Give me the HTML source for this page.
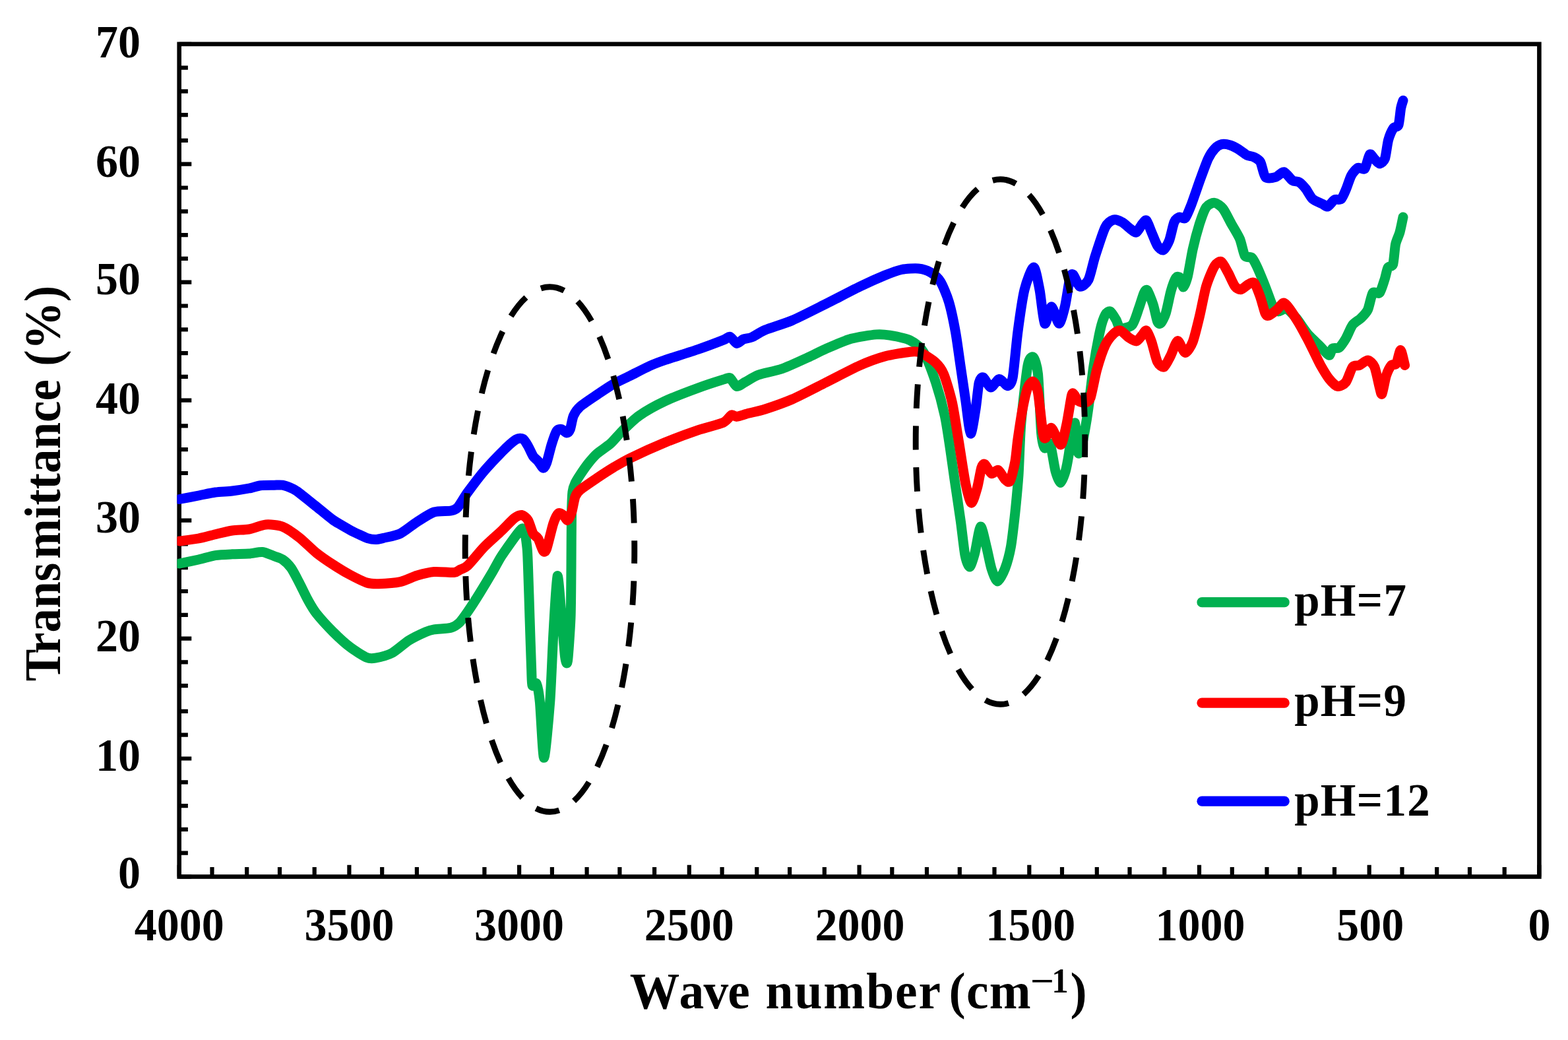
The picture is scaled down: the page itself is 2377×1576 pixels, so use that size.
<!DOCTYPE html>
<html lang="en">
<head>
<meta charset="utf-8">
<title>FTIR transmittance spectra</title>
<style>
html,body{margin:0;padding:0;background:#fff;}
body{width:2377px;height:1576px;overflow:hidden;}
svg{display:block;}
text{font-family:"Liberation Serif","DejaVu Serif",serif;font-weight:bold;fill:#000;font-kerning:none;}
.tk{font-size:68px;}
.ti{font-size:75.5px;}
.lg{font-size:69px;}
</style>
</head>
<body>
<svg width="2377" height="1576" viewBox="0 0 2377 1576">
<rect x="0" y="0" width="2377" height="1576" fill="#fff"/>
<path d="M271.7 1328.5h18.6M271.7 1292.7h13.2M271.7 1256.9h13.2M271.7 1221.1h13.2M271.7 1185.3h13.2M271.7 1149.5h18.6M271.7 1113.7h13.2M271.7 1077.9h13.2M271.7 1039.2h13.2M271.7 1003.4h13.2M271.7 967.6h18.6M271.7 931.8h13.2M271.7 896h13.2M271.7 860.2h13.2M271.7 824.4h13.2M271.7 788.6h18.6M271.7 752.8h13.2M271.7 717h13.2M271.7 681.2h13.2M271.7 645.4h13.2M271.7 606.7h18.6M271.7 570.9h13.2M271.7 535.1h13.2M271.7 499.3h13.2M271.7 463.5h13.2M271.7 427.7h18.6M271.7 391.9h13.2M271.7 356.1h13.2M271.7 320.3h13.2M271.7 284.5h13.2M271.7 248.7h18.6M271.7 212.9h13.2M271.7 174.2h13.2M271.7 138.4h13.2M271.7 102.6h13.2M271.7 66.8h18.6M271.7 1328.5v-17.8M321.5 1328.5v-14.4M374.2 1328.5v-14.4M424 1328.5v-14.4M476.7 1328.5v-14.4M529.4 1328.5v-17.8M579.2 1328.5v-14.4M631.9 1328.5v-14.4M681.7 1328.5v-14.4M734.4 1328.5v-14.4M787.1 1328.5v-17.8M836.9 1328.5v-14.4M889.6 1328.5v-14.4M939.4 1328.5v-14.4M992.1 1328.5v-14.4M1044.8 1328.5v-17.8M1094.6 1328.5v-14.4M1147.3 1328.5v-14.4M1197.1 1328.5v-14.4M1249.8 1328.5v-14.4M1302.6 1328.5v-17.8M1352.3 1328.5v-14.4M1405 1328.5v-14.4M1454.8 1328.5v-14.4M1507.5 1328.5v-14.4M1560.3 1328.5v-17.8M1610 1328.5v-14.4M1662.8 1328.5v-14.4M1712.5 1328.5v-14.4M1765.3 1328.5v-14.4M1818 1328.5v-17.8M1867.8 1328.5v-14.4M1920.5 1328.5v-14.4M1970.3 1328.5v-14.4M2023 1328.5v-14.4M2075.7 1328.5v-17.8M2125.5 1328.5v-14.4M2178.2 1328.5v-14.4M2228 1328.5v-14.4M2280.7 1328.5v-14.4M2333.4 1328.5v-17.8" fill="none" stroke="#000" stroke-width="6.2"/>
<rect x="271.7" y="66.8" width="2061.7" height="1261.7" fill="none" stroke="#000" stroke-width="6.6"/>
<clipPath id="cp"><rect x="268.4" y="60" width="2080" height="1280"/></clipPath>
<g clip-path="url(#cp)" fill="none" stroke-width="15" stroke-linecap="round" stroke-linejoin="round">
<path d="M272 854C275.6 853.2 294.2 849.5 301 848C307.8 846.5 320.1 842.6 326.5 841.6C332.9 840.6 345.6 840.1 352 839.8C358.4 839.5 371.8 839.4 377.5 839C383.2 838.6 393.2 836 398 836.5C402.8 837 412 841.4 415.8 842.8C419.6 844.2 425.4 845.8 428.6 848C431.8 850.2 438.1 856.2 441.3 860.7C444.5 865.2 450.8 877.6 454 883.7C457.2 889.8 463.6 903.5 466.8 909.2C470 914.9 474.8 923.6 479.6 929.6C484.4 935.6 498.6 951.2 505 957.6C511.4 964 524.2 975.8 530.6 980.6C537 985.5 551.2 994.3 556 996.4C560.8 998.5 564.2 998.1 569 997.2C573.8 996.3 588 992.9 594.4 989.5C600.8 986.1 613.6 974.4 620 970.4C626.4 966.4 640.6 959.7 645.4 957.6C650.1 955.5 653.2 954.6 658 953.8C662.8 953 678.8 952.6 683.6 951.3C688.4 950 693.2 946.6 696.4 943.6C699.6 940.6 705.2 932.5 709 927C712.8 921.5 721.8 907.6 726.5 900C731.2 892.4 742.8 873.1 747 866C751.2 858.9 755.2 850.4 760 843C764.8 835.6 781.5 812.1 785.7 807C790 801.9 792.3 799.1 794 802C795.7 804.9 798.2 822.8 799 830C799.8 837.2 800 846.7 800.5 860C801 873.3 802.4 917.4 803 936.5C803.6 955.6 805.1 1000.2 805.6 1013C806.1 1025.8 806 1035.7 807 1038.6C808 1041.5 811.9 1032.8 813.3 1036C814.7 1039.2 817 1050 818.4 1064C819.8 1078 822.8 1148.3 824.7 1148.3C826.6 1148.3 831.9 1087.3 833.7 1064C835.5 1040.7 837.4 985.9 838.8 962C840.2 938.1 843.4 876 845 872.8C846.6 869.6 850 921.2 851.5 936.5C853 951.8 855.5 987.1 856.6 995.2C857.7 1003.3 859.5 1008.9 860.5 1001.6C861.5 994.3 864.3 954.2 865 936.5C865.7 918.8 865.8 879.6 866 860C866.2 840.4 866.2 794.4 866.5 780C866.8 765.6 867.3 751 868 745C868.7 739 870.5 735.2 872 732C873.5 728.8 877.1 723.2 879.6 719.4C882.1 715.6 889.1 705.5 892.3 701.5C895.5 697.5 900.9 691.2 905 687.5C909.1 683.8 920.7 676.5 925.5 672.2C930.3 667.9 938 658.3 943.4 653C948.8 647.7 960.9 635.6 968.9 630C976.9 624.4 995.9 613.6 1007 608.4C1018.1 603.1 1046.8 592.1 1058 588C1069.2 583.9 1090.3 577.1 1096.4 575.2C1102.5 573.3 1104 571.4 1106.6 572.7C1109.1 574 1113.9 584.7 1116.8 585.5C1119.7 586.3 1125.4 581.2 1129.6 579C1133.8 576.8 1143 570.5 1150 568C1157 565.5 1176.5 562 1185.7 558.7C1195 555.5 1215.7 545.8 1224 542C1232.3 538.2 1243.7 532.2 1252 528.6C1260.3 525 1280.7 516 1290.3 513.3C1299.9 510.6 1321.3 507.5 1328.6 506.9C1335.9 506.3 1342.6 507.1 1349 508.2C1355.4 509.3 1373.2 512.6 1379.6 515.8C1386 519 1395.1 525.7 1400 533.7C1404.9 541.7 1414.5 567.5 1418.6 579.6C1422.6 591.7 1429.7 618.1 1432.4 630.6C1435.1 643.1 1438.6 668 1440.4 680C1442.2 692 1445 712.7 1447 726.5C1449 740.3 1454.4 775.9 1456.4 790.3C1458.4 804.6 1461.3 832.7 1463 841.3C1464.7 849.9 1468.2 859.3 1470 859C1471.8 858.7 1475.5 846.4 1477.6 838.8C1479.7 831.2 1484.3 799.3 1486.5 798C1488.7 796.7 1493.3 820.6 1495.4 828.6C1497.5 836.6 1500.9 855.2 1503 861.7C1505.1 868.2 1509.4 880.9 1512 880.9C1514.6 880.9 1521 868.2 1523.5 861.7C1526 855.2 1530.5 839.1 1532.4 828.6C1534.3 818.1 1537.3 791.2 1538.8 777.6C1540.2 764 1542.8 737.2 1544 720C1545.2 702.8 1546.2 660.8 1548 640C1549.8 619.2 1555.7 566.3 1558 554C1560.3 541.7 1564.4 539.7 1566.3 541.3C1568.2 542.9 1572 552.5 1573.5 566.8C1575 581.1 1577.3 642 1578.6 656C1579.9 670 1582 676.9 1583.7 679C1585.4 681.1 1590 668.6 1592 673C1594 677.4 1598 706.5 1600 713.8C1602 721.1 1605.7 731.6 1607.6 731.6C1609.5 731.6 1613.8 719 1615.3 713.8C1616.8 708.6 1618.8 697.4 1620 690C1621.2 682.6 1623.8 661.1 1625 655C1626.2 648.9 1628.7 639.5 1629.6 640.8C1630.5 642 1631.9 659.3 1632.5 665C1633.1 670.7 1633.9 684.8 1634.7 686.7C1635.5 688.6 1637.7 684.6 1639 680C1640.3 675.4 1643.6 657.8 1645 650C1646.4 642.2 1648.4 629.8 1650 618C1651.6 606.2 1655.5 570.8 1657.7 556C1659.9 541.2 1665.7 509.9 1667.9 500C1670.1 490.1 1673.6 480.5 1675.5 477C1677.4 473.5 1681.1 471 1683.2 472C1685.3 473 1690.1 481.5 1692 484.7C1693.9 487.9 1695.5 496.4 1698.5 497.4C1701.5 498.3 1712.8 496.1 1716.3 492.3C1719.8 488.5 1724.3 472.9 1726.5 466.8C1728.7 460.8 1732.6 447.2 1734.2 443.9C1735.8 440.5 1737.5 437.8 1739.3 440C1741 442.2 1746.3 455.8 1748.2 461.7C1750.1 467.6 1753.2 483.7 1754.6 487.2C1756 490.7 1758.1 491.4 1759.7 489.8C1761.3 488.2 1765.4 480.6 1767.3 474.5C1769.2 468.4 1773.1 448 1775 441.3C1776.9 434.6 1781 423.5 1782.7 421C1784.5 418.5 1787.6 419.2 1789 421C1790.4 422.8 1792.6 435.3 1794 435C1795.4 434.7 1798.7 425.6 1800.5 418.4C1802.3 411.2 1806 387.5 1808.2 377.6C1810.4 367.7 1815.9 347.3 1818.4 339.3C1821 331.3 1825.7 317.8 1828.6 313.8C1831.5 309.8 1838.1 307.1 1841.3 307.4C1844.5 307.7 1850.8 312.3 1854 316.3C1857.2 320.3 1863.6 333.6 1866.8 339.3C1870 345 1877 356.1 1879.6 362.2C1882.1 368.3 1885 384.3 1887.2 387.8C1889.4 391.3 1895.2 388.4 1897.4 390.3C1899.6 392.2 1902.4 397.6 1905 403C1907.6 408.4 1914.7 425.7 1917.9 433.7C1921.1 441.7 1928 462 1930.6 466.8C1933.1 471.6 1935.9 471.9 1938.3 472C1940.7 472.1 1946.7 466.8 1950 468C1953.3 469.2 1961 477.4 1965 482C1969 486.6 1977 499.6 1981.6 505C1986.2 510.4 1997.8 521.3 2002 525.5C2006.2 529.7 2012.5 538 2014.8 538.3C2017 538.6 2018.1 529.4 2020 528C2021.9 526.6 2027.5 528.7 2030 526.8C2032.5 524.9 2037.7 517.1 2040.3 512.8C2042.9 508.5 2047.6 496.1 2050.5 492.3C2053.4 488.5 2060.4 484.9 2063.3 482C2066.2 479.1 2071.3 474.2 2073.5 469.4C2075.7 464.6 2078.8 447.1 2081 443.9C2083.2 440.7 2089.1 446.4 2091.3 443.9C2093.6 441.3 2097.4 428.3 2099 423.5C2100.6 418.7 2102.4 408.5 2104 405.6C2105.6 402.7 2110.2 404.9 2111.7 400.5C2113.1 396.1 2114.3 376.1 2115.6 370C2116.9 363.9 2120.6 357.1 2122 352C2123.4 346.9 2126.4 331.9 2127 329" stroke="#00b050"/>
<path d="M272 820C275.6 819.5 294.2 817.3 301 816C307.8 814.7 320.1 811.2 326.5 809.7C332.9 808.2 345.6 805 352 804C358.4 803 371.1 803.1 377.5 802C383.9 800.9 396.6 795.5 403 795C409.4 794.5 422.2 795.7 428.6 798.2C435 800.7 447.6 809.8 454 814.8C460.4 819.8 473.2 832.7 479.6 837.8C486 842.9 498.6 851.5 505 855.6C511.4 859.8 524.2 867.6 530.6 871C537 874.4 550.6 881.3 556 883C561.4 884.7 567.6 884.9 574 884.7C580.4 884.5 599.7 883.2 607 881.6C614.3 880 626.2 873.9 632.6 872C639 870.1 651 867.1 658 866.5C665 865.9 683.3 867.9 688.3 867.5C693.3 867.1 695.4 864.3 698 863C700.6 861.7 704.4 861.4 709 857C713.6 852.6 728.3 834.5 734.7 828C741.1 821.5 754.3 810 760 804.6C765.7 799.2 776.1 788 780 785C783.9 782 788.4 780.1 791 780.5C793.6 780.9 798.4 784.8 800.5 788.3C802.6 791.8 806.3 805.2 808.2 808.7C810.1 812.2 813.9 813 815.8 816.3C817.7 819.6 821.9 833.1 823.5 835C825.1 836.9 826.7 836.8 828.6 831.6C830.5 826.4 836.6 800.1 838.8 793.4C841 786.7 844.5 779.6 846.4 778C848.3 776.4 852.2 779.3 854 780.6C855.8 781.9 858.9 788.9 860.5 788.3C862.1 787.7 865.4 780 866.8 775.5C868.2 771 870.4 756.8 872 752.6C873.6 748.5 875.5 745.8 879.6 742.3C883.7 738.8 898.6 728.8 905 724.5C911.4 720.2 924.2 711.8 930.6 708C937 704.2 946.5 698.5 956 693.9C965.5 689.3 994.2 676.3 1007 671C1019.8 665.7 1046.8 655.6 1058 651.8C1069.2 648 1090 643.2 1096.4 640.3C1102.8 637.4 1106.5 629.9 1109 628.8C1111.5 627.7 1113.6 631.7 1116.8 631.4C1120 631.1 1129.3 627.7 1134.7 626.3C1140.1 624.9 1151.7 622.7 1160 620C1168.3 617.3 1189.5 610 1201 605C1212.5 600 1239.2 586 1252 579.6C1264.8 573.2 1291.8 559 1303 554C1314.2 549 1331.7 542.6 1341.3 540C1350.9 537.4 1372.9 533.9 1379.6 533.2C1386.3 532.5 1390.2 532.2 1395 534.2C1399.8 536.2 1413.5 544.9 1417.9 549C1422.4 553.1 1427.4 559.2 1430.6 566.8C1433.8 574.4 1440.5 597.1 1443.4 610C1446.3 622.9 1451 654.6 1453.6 670C1456.1 685.4 1461.4 721.5 1463.8 733C1466.2 744.5 1470.3 761.2 1472.5 762C1474.7 762.8 1479.5 746 1481.4 739.3C1483.3 732.6 1486.4 713.2 1487.8 708.7C1489.2 704.2 1491 702.5 1492.9 703.6C1494.8 704.7 1500.5 716.5 1503 717.6C1505.5 718.7 1510.7 711.4 1513.3 712.5C1515.9 713.6 1521.3 724.4 1523.5 726.5C1525.7 728.6 1529.1 732.3 1531 729C1532.9 725.7 1537.3 708 1538.8 700C1540.3 692 1541.5 675.3 1543 665C1544.5 654.7 1548.6 627.6 1550.5 617.9C1552.4 608.2 1556 592.2 1558 587.2C1560 582.2 1564.4 577.3 1566.3 578.3C1568.2 579.3 1571.7 585.3 1573.5 595C1575.3 604.7 1579.6 647.4 1581 656C1582.4 664.6 1583.4 664.7 1585 663.8C1586.6 662.9 1591.1 647.2 1594 648.5C1596.9 649.8 1605.2 674.6 1608 674C1610.8 673.4 1614.7 652.7 1616.8 643.4C1618.9 634.1 1623.1 605.4 1624.5 599.6C1625.9 593.9 1626.7 596.4 1628 597.4C1629.3 598.4 1632.6 606 1634.7 607.6C1636.8 609.2 1642.7 610.6 1645 610C1647.3 609.4 1650.8 609.2 1653 603C1655.2 596.8 1660 570 1662.8 560C1665.6 550 1672.3 529.8 1675.5 523C1678.7 516.2 1685.4 508.4 1688.3 505.6C1691.2 502.9 1695.6 500.3 1698.5 501C1701.4 501.7 1708.2 509.5 1711.2 511.5C1714.2 513.5 1720.2 517.5 1722.7 517C1725.2 516.5 1729.7 509.6 1731.6 507.6C1733.5 505.6 1736.2 499.7 1738 501C1739.8 502.3 1743.6 512 1745.7 517.9C1747.8 523.8 1752.2 543.7 1754.6 548.5C1757 553.3 1762.2 557.3 1764.8 556C1767.3 554.7 1772.5 543.2 1775 538.3C1777.5 533.4 1782.5 517.1 1785.2 516.6C1787.9 516.1 1793.8 534.2 1796.7 534.4C1799.6 534.6 1805.5 524.8 1808.2 517.9C1810.9 511 1815.9 490.1 1818.4 479.6C1821 469.1 1825.7 443.3 1828.6 433.7C1831.5 424.1 1838.4 407.6 1841.3 403C1844.2 398.4 1849 395.4 1851.5 396.7C1854 398 1859.1 408.7 1861.7 413.3C1864.3 417.9 1869.6 430.5 1872 433.7C1874.4 436.9 1878.4 439.1 1880.9 438.8C1883.4 438.5 1889.8 432.3 1892.3 431C1894.8 429.7 1899.1 426.4 1901.3 428.6C1903.5 430.9 1908.1 443.3 1910.2 449C1912.3 454.7 1916.3 470.8 1917.9 474.5C1919.5 478.2 1920.8 478.9 1923 478.3C1925.2 477.7 1932.8 471.8 1935.7 469.4C1938.6 467 1943.5 459 1946 459C1948.5 459 1953.1 465.5 1956 469.4C1958.9 473.2 1965.7 484.4 1968.9 489.8C1972.1 495.2 1978.7 507.4 1981.6 512.8C1984.5 518.2 1989.2 527.9 1991.8 533C1994.3 538.1 1999.1 548.5 2002 553.6C2004.9 558.7 2011.6 570 2014.8 574C2018 578 2024.4 584.9 2027.6 585.5C2030.8 586.1 2037.4 582.7 2040.3 579C2043.2 575.3 2048 559.2 2050.5 556C2053.1 552.8 2057.8 554.9 2060.7 553.6C2063.6 552.4 2070.6 545.7 2073.5 546C2076.4 546.3 2081.5 550.9 2083.7 556C2085.9 561.1 2089.9 581.6 2091.3 586.7C2092.7 591.8 2093.7 599.2 2095 597C2096.3 594.8 2099.7 574.4 2101.5 569C2103.3 563.6 2107.3 555.9 2109.2 553.6C2111.1 551.4 2115.1 553.9 2116.8 551C2118.6 548.1 2121.6 530.3 2123.2 530.6C2124.8 530.9 2128.8 550.7 2129.6 553.6" stroke="#ff0000"/>
<path d="M272 756.5C275.6 755.8 294.2 752.3 301 751C307.8 749.7 320.1 746.9 326.5 746C332.9 745.1 345.6 744.8 352 744C358.4 743.2 372.1 741 377.5 740C382.9 739 390.2 736.3 395 735.7C399.8 735.1 411.6 735.3 415.8 735.2C420 735.1 425.1 734.5 428.6 735.2C432.1 735.9 440.8 739.3 444 740.8C447.2 742.3 449.6 743.9 454 747.2C458.4 750.6 473.2 762.5 479.6 767.6C486 772.7 498.6 783.5 505 788C511.4 792.5 525.6 800.4 530.6 803.2C535.6 806 541.7 808.7 545 810.2C548.3 811.8 554 814.7 557 815.6C560 816.5 565.9 817.6 569 817.6C572.1 817.6 576.9 816.4 581.6 815.3C586.4 814.1 600.6 811.5 607 808.4C613.4 805.3 626.2 794.6 632.6 790.6C639 786.6 651.6 778.1 658 776C664.4 773.9 679.1 774.9 683.6 774C688.1 773.1 690.7 772.4 693.9 768.9C697.1 765.4 703.9 753 709 746C714.1 739 727.7 720.9 734.7 712.8C741.7 704.7 758.8 686.9 764.8 681C770.8 675.1 779.2 667.8 782.7 665.8C786.2 663.8 790.7 664 792.9 665.3C795.1 666.6 798.6 672.8 800.5 676C802.4 679.2 806.3 688.4 808.2 691.3C810.1 694.2 813.9 696.8 815.8 699C817.7 701.2 821.9 708.9 823.5 709.2C825.1 709.5 827 706 828.6 701.5C830.2 697 834.3 679.6 836.2 673.5C838.1 667.4 842 655.9 843.9 653C845.8 650.1 849.6 650.1 851.5 650.5C853.4 650.9 857.6 656 859.2 656C860.8 656 863 653.8 864.3 650.5C865.6 647.2 867.5 634.3 869.4 630C871.3 625.7 875.1 620 879.6 616C884.1 612 898.6 602.5 905 598.2C911.4 593.9 924.2 585.2 930.6 581.6C937 578 949.2 572.4 956 569C962.8 565.6 978.6 557.4 985 554.5C991.4 551.6 997.9 549.1 1007 546C1016.1 542.9 1046.8 533.3 1058 529.5C1069.2 525.7 1090.3 517.7 1096.4 515.3C1102.5 512.9 1104 509.6 1106.6 510.2C1109.1 510.8 1114.2 519.9 1116.8 520.4C1119.3 520.9 1124.1 515.2 1127 514C1129.9 512.8 1135.7 512.8 1139.8 511C1143.9 509.2 1152.3 503.2 1160 500C1167.7 496.8 1189.5 490.4 1201 485.5C1212.5 480.6 1239.2 466.9 1252 460.5C1264.8 454.1 1291.8 439.9 1303 434.5C1314.2 429.1 1333.3 420.6 1341.3 417.3C1349.3 414.1 1360.4 409.8 1366.8 408.5C1373.2 407.2 1386.9 406.5 1392.3 407C1397.7 407.5 1406 410.1 1410.2 412.5C1414.4 414.9 1422 420.9 1425.5 426.5C1429 432.1 1435.4 447.4 1438.3 457C1441.2 466.6 1446.3 490.9 1448.5 503C1450.7 515.1 1454.1 541 1456 554C1457.9 567 1461.9 594.1 1463.8 607C1465.7 619.9 1469.5 655.4 1471.4 657C1473.3 658.6 1477.4 629.7 1479 620C1480.6 610.3 1482.8 585.6 1484.2 579.6C1485.7 573.6 1488.4 571.1 1490.6 572C1492.8 572.9 1499 586.7 1502 587C1505 587.3 1511.6 574.8 1514.8 574.5C1518 574.2 1525 585 1527.6 584.7C1530.1 584.4 1533.3 582.2 1535.2 572C1537.1 561.8 1540.7 519.6 1542.9 503C1545.1 486.4 1550 451.6 1553 439.3C1556 427.1 1564.1 405 1567 405C1569.9 405 1573.9 428.6 1576 439.3C1578.1 450 1581.5 487.1 1583.7 490.3C1586 493.5 1591.3 464.8 1594 464.8C1596.7 464.8 1602.9 490.3 1605.4 490.3C1607.9 490.3 1612.2 473.4 1614.3 464.8C1616.4 456.2 1620.4 427.5 1622 421.4C1623.6 415.3 1625.1 414.7 1627 416.3C1628.9 417.9 1634.3 433.2 1637.2 434.2C1640.1 435.2 1647.1 429.7 1650 424C1652.9 418.3 1657 398.2 1660.2 388.3C1663.4 378.4 1672 351.3 1675.5 344.4C1679 337.5 1685.1 334 1688.3 333C1691.5 332 1697.8 334.9 1701 336.7C1704.2 338.4 1711.1 345.1 1713.8 347C1716.5 348.9 1720.5 353 1722.7 352C1724.9 351 1729.7 341.5 1731.6 339.3C1733.5 337.1 1736.2 332.6 1738 334.2C1739.8 335.8 1743.6 347.2 1745.7 352C1747.8 356.8 1752.4 369 1754.6 372.4C1756.8 375.8 1761.3 379.8 1763.5 378.8C1765.7 377.9 1770.3 370.1 1772.4 364.8C1774.5 359.5 1778.1 341.2 1780 336.7C1781.9 332.2 1785.7 329.8 1787.8 329C1789.9 328.2 1794.5 332.6 1796.7 330.4C1798.9 328.2 1802.8 318.3 1805.6 311.2C1808.4 304.1 1815.7 282.4 1818.9 273.5C1822.2 264.6 1828.7 246.4 1831.6 240.3C1834.5 234.2 1839.2 227.7 1841.8 225C1844.3 222.3 1849.1 219.2 1852 218.6C1854.9 218 1861.6 219 1864.8 220C1868 221 1874.4 224.4 1877.6 226.3C1880.8 228.2 1887.4 233.8 1890.3 235.2C1893.2 236.6 1898 236.5 1900.5 237.8C1903 239.1 1908.5 241.6 1910.7 245.4C1912.9 249.2 1915.5 265.5 1918.4 268.4C1921.3 271.3 1930.2 269.4 1933.7 268.4C1937.2 267.4 1943.2 260.1 1946.4 260.7C1949.6 261.3 1956.3 271.6 1959.2 273.5C1962.1 275.4 1966.9 274.4 1969.4 276C1972 277.6 1977 283 1979.6 286.2C1982.1 289.4 1986.6 298.6 1989.8 301.5C1993 304.4 2002.1 307.8 2005 309.2C2007.9 310.6 2010.5 313.8 2012.8 313C2015 312.2 2020.5 304.2 2023 302.8C2025.5 301.4 2031 303.6 2033.2 301.5C2035.4 299.4 2038.9 290.7 2040.8 286.2C2042.7 281.7 2046.3 269.8 2048.5 265.8C2050.7 261.8 2056.1 255.6 2058.7 254.3C2061.2 253 2066.7 258.1 2068.9 255.6C2071.1 253.1 2074.6 235.8 2076.5 234C2078.4 232.2 2082.3 239.8 2084.2 241.6C2086.1 243.3 2089.9 248.2 2091.8 248C2093.7 247.8 2097.9 244.8 2099.5 240.3C2101.1 235.8 2103 217.9 2104.6 212.2C2106.2 206.5 2110.3 197.3 2112.2 194.4C2114.1 191.5 2118.6 193.1 2120 189.3C2121.4 185.5 2122.8 168.4 2123.7 163.8C2124.6 159.2 2126.6 153.7 2127 152.3" stroke="#0000ff"/>
</g>
<ellipse cx="833.5" cy="832.5" rx="128.3" ry="397.8" fill="none" stroke="#000" stroke-width="8.9" stroke-dasharray="36.5 26.5" stroke-dashoffset="15"/>
<ellipse cx="1516.5" cy="669.5" rx="128.3" ry="397.8" fill="none" stroke="#000" stroke-width="8.9" stroke-dasharray="36.5 26.5" stroke-dashoffset="13"/>
<text class="tk" transform="translate(213 1346.2) scale(1 1.02)" text-anchor="end">0</text>
<text class="tk" transform="translate(213 1167.5) scale(1 1.02)" text-anchor="end">10</text>
<text class="tk" transform="translate(213 987.4) scale(1 1.02)" text-anchor="end">20</text>
<text class="tk" transform="translate(213 807) scale(1 1.02)" text-anchor="end">30</text>
<text class="tk" transform="translate(213 627.1) scale(1 1.02)" text-anchor="end">40</text>
<text class="tk" transform="translate(213 445.7) scale(1 1.02)" text-anchor="end">50</text>
<text class="tk" transform="translate(213 267.5) scale(1 1.02)" text-anchor="end">60</text>
<text class="tk" transform="translate(213 87.2) scale(1 1.02)" text-anchor="end">70</text>
<text class="tk" transform="translate(271.7 1424.6) scale(1 1.02)" text-anchor="middle">4000</text>
<text class="tk" transform="translate(529.4 1424.6) scale(1 1.02)" text-anchor="middle">3500</text>
<text class="tk" transform="translate(787.1 1424.6) scale(1 1.02)" text-anchor="middle">3000</text>
<text class="tk" transform="translate(1044.8 1424.6) scale(1 1.02)" text-anchor="middle">2500</text>
<text class="tk" transform="translate(1303.6 1424.6) scale(1 1.02)" text-anchor="middle">2000</text>
<text class="tk" transform="translate(1562.3 1424.6) scale(1 1.02)" text-anchor="middle">1500</text>
<text class="tk" transform="translate(1819.5 1424.6) scale(1 1.02)" text-anchor="middle">1000</text>
<text class="tk" transform="translate(2077.2 1424.6) scale(1 1.02)" text-anchor="middle">500</text>
<text class="tk" transform="translate(2333.4 1424.6) scale(1 1.02)" text-anchor="middle">0</text>
<text class="ti" transform="translate(0 1527.8) scale(1 1.025)" y="0"><tspan x="954.8" style="letter-spacing:-0.8px">Wave</tspan> <tspan x="1160.6" style="letter-spacing:1.9px">number</tspan> <tspan x="1438.6" style="letter-spacing:1.2px">(cm</tspan><tspan x="1561.8" y="-23" font-size="51" textLength="36.4" lengthAdjust="spacingAndGlyphs">−</tspan><tspan x="1594.3" y="-23" font-size="51">1</tspan><tspan x="1622.4" y="0">)</tspan></text>
<text class="ti" transform="translate(91.2 1032.6) rotate(-90) scale(0.968 1.04)" x="0" y="0">T<tspan dx="-7.2">rans</tspan><tspan dx="6">mittance</tspan> <tspan dx="2.2">(%)</tspan></text>
<path d="M1822 912.7H1947.2" fill="none" stroke="#00b050" stroke-width="15.2" stroke-linecap="round"/>
<text class="lg" transform="translate(1962.2 932.5) scale(1 1.02)" style="letter-spacing:1.3px">pH=7</text>
<path d="M1822 1065.2H1947.2" fill="none" stroke="#ff0000" stroke-width="15.2" stroke-linecap="round"/>
<text class="lg" transform="translate(1962.2 1084.5) scale(1 1.02)" style="letter-spacing:1.3px">pH=9</text>
<path d="M1822 1214.2H1947.2" fill="none" stroke="#0000ff" stroke-width="15.2" stroke-linecap="round"/>
<text class="lg" transform="translate(1962.2 1236.4) scale(1 1.02)" style="letter-spacing:1.3px">pH=12</text>
</svg>
</body>
</html>
